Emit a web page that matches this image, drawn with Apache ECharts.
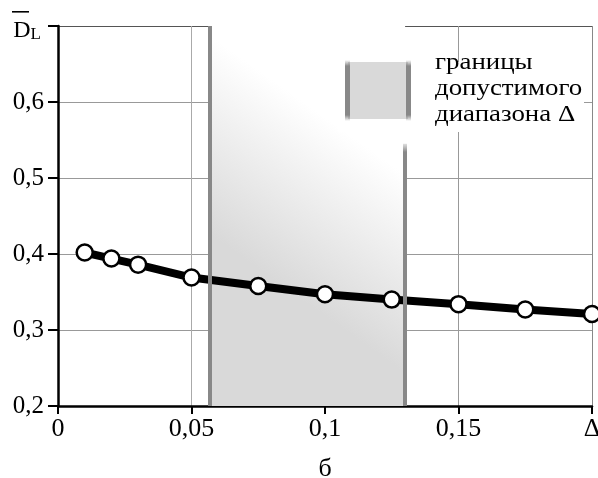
<!DOCTYPE html>
<html>
<head>
<meta charset="utf-8">
<script src="https://cdn.jsdelivr.net/npm/echarts@6/dist/echarts.min.js"></script>
<style>
  html, body { margin: 0; padding: 0; background: #fff; }
  #chart { width: 598px; height: 478px; }
</style>
</head>
<body>
<div id="chart"></div>
<script>
(() => {
  'use strict';

  // -------- data --------
  const sigma = [0.01, 0.02, 0.03, 0.05, 0.075, 0.1, 0.125, 0.15, 0.175, 0.2];
  const dl = [0.402, 0.394, 0.386, 0.369, 0.358, 0.347, 0.340, 0.334, 0.327, 0.321];
  const bandFrom = 0.057;
  const bandTo = 0.13;
  const bandRightTop = 0.545;   // right border hidden behind legend above this
  const xTickLabels = { '0': '0', '0.05': '0,05', '0.1': '0,1', '0.15': '0,15', '0.2': 'Δ' };
  const legendLines = ['границы', 'допустимого', 'диапазона Δ'];
  const xName = 'б';

  const FONT = '"Liberation Serif", "DejaVu Serif", serif';
  const key = (v) => String(Math.round(v * 1000) / 1000);
  const fade = (y0, y1, y2, y3) => new echarts.graphic.LinearGradient(0, y0, 0, y3, [
    { offset: 0, color: 'rgba(136,136,136,0)' },
    { offset: (y1 - y0) / (y3 - y0), color: '#888' },
    { offset: (y2 - y0) / (y3 - y0), color: '#888' },
    { offset: 1, color: 'rgba(136,136,136,0)' }], true);

  const chart = echarts.init(document.getElementById('chart'), null, { renderer: 'canvas' });

  chart.setOption({
    animation: false,
    backgroundColor: '#fff',
    grid: { left: 58, right: 6, top: 26, bottom: 72, containLabel: false, outerBoundsMode: 'none' },
    xAxis: {
      type: 'value', min: 0, max: 0.2, interval: 0.05,
      name: xName, nameLocation: 'middle', nameGap: 50,
      nameTextStyle: { fontFamily: FONT, fontSize: 26, color: '#000' },
      axisLine: { lineStyle: { color: '#000', width: 2.5 } },
      axisTick: { length: 8, lineStyle: { color: '#000', width: 2 } },
      axisLabel: {
        fontFamily: FONT, fontSize: 26, color: '#000', margin: 10,
        formatter: (v) => xTickLabels[key(v)] ?? String(v).replace('.', ','),
      },
      splitLine: { show: true, lineStyle: { color: ['#999', '#aaa', '#333', '#999', '#888'], width: 1 } },
    },
    yAxis: {
      type: 'value', min: 0.2, max: 0.7, interval: 0.1,
      axisLine: { show: true, lineStyle: { color: '#000', width: 2.5 } },
      axisTick: { show: true, length: 10, lineStyle: { color: '#000', width: 2 } },
      axisLabel: {
        fontFamily: FONT, fontSize: 25, color: '#000', margin: 14,
        formatter: (v) => Math.abs(v - 0.7) < 1e-6 ? '{d|D}{l|L}' : key(v).replace('.', ','),
        rich: {
          d: { fontFamily: FONT, fontSize: 24, color: '#000', verticalAlign: 'bottom', padding: [10, 0, 0, 0] },
          l: { fontFamily: FONT, fontSize: 17, color: '#000', verticalAlign: 'bottom', padding: [10, 3, 0, 0] },
        },
      },
      splitLine: { show: true, lineStyle: { color: ['#999', '#999', '#999', '#999', '#999', '#555'], width: 1 } },
    },
    graphic: [
      // overline of D
      { type: 'rect', shape: { x: 12, y: 11, width: 17, height: 1.6 }, style: { fill: '#000' }, z: 10 },
      // legend: white box
      { type: 'rect', shape: { x: 338, y: 62, width: 246, height: 70 }, style: { fill: '#fff' }, z: 5 },
      // legend symbol
      { type: 'rect', shape: { x: 348, y: 62, width: 60, height: 57 }, style: { fill: '#d9d9d9' }, z: 6 },
      { type: 'rect', shape: { x: 345, y: 60, width: 5, height: 61 }, style: { fill: fade(60, 66, 115, 121) }, z: 7 },
      { type: 'rect', shape: { x: 406, y: 60, width: 5, height: 61 }, style: { fill: fade(60, 66, 115, 121) }, z: 7 },
      {
        type: 'text', x: 435, y: 50, scaleX: 1.12, z: 8,
        style: { text: legendLines.join('\n'), font: '24px ' + FONT, fill: '#000', lineHeight: 26 },
      },
    ],
    series: [
      {
        type: 'line',
        data: sigma.map((x, i) => [x, dl[i]]),
        z: 4,
        lineStyle: { color: '#000', width: 8 },
        symbol: 'circle', symbolSize: 16,
        itemStyle: { color: '#fff', borderColor: '#000', borderWidth: 2.5 },
        markArea: {
          silent: true,
          itemStyle: {
            color: new echarts.graphic.LinearGradient(312, 108, 218, 240, [
              { offset: 0, color: '#ffffff' }, { offset: 1, color: '#d9d9d9' }], true),
          },
          data: [[{ xAxis: bandFrom, yAxis: 0.2 }, { xAxis: bandTo, yAxis: 0.7 }]],
        },
        markLine: {
          silent: true, symbol: 'none', label: { show: false },
          lineStyle: { color: '#888', width: 4, type: 'solid' },
          data: [
            [{ coord: [bandFrom, 0.2] }, { coord: [bandFrom, 0.7] }],
            [{ coord: [bandTo, 0.2], lineStyle: { color: fade(141, 152, 500, 501) } }, { coord: [bandTo, bandRightTop] }],
          ],
        },
      },
    ],
  });
})();
</script>
</body>
</html>
